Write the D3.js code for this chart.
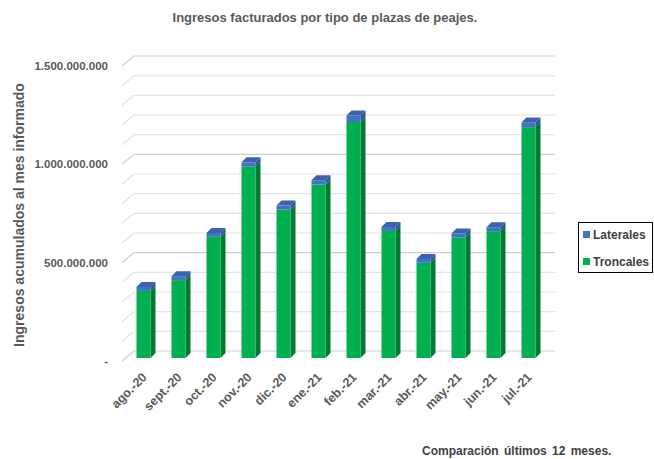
<!DOCTYPE html>
<html>
<head>
<meta charset="utf-8">
<script src="https://cdn.jsdelivr.net/npm/d3@7"></script>
<style>
body { margin: 0; background: #fff; }
svg { font-family: Arial, "Liberation Sans", sans-serif; }
</style>
</head>
<body>
<svg id="chart" width="654" height="459"></svg>
<script>
var months = ["ago.-20", "sept.-20", "oct.-20", "nov.-20", "dic.-20", "ene.-21", "feb.-21", "mar.-21", "abr.-21", "may.-21", "jun.-21", "jul.-21"];
var troncales = [341e6, 396e6, 616e6, 975e6, 755e6, 882e6, 1200e6, 646e6, 484e6, 613e6, 645e6, 1174e6];
var laterales = [20e6, 20e6, 20e6, 20e6, 20e6, 22e6, 33e6, 20e6, 20e6, 20e6, 20e6, 24e6];
var yTicks = [0, 500e6, 1000e6, 1500e6];
var yTickLabels = ["-", "500.000.000", "1.000.000.000", "1.500.000.000"];

var width = 654;
var height = 459;
var wallDx = 12;
var wallDy = -10;
var barDy = -3;
var depthX = 5;
var depthY = -5;

var svg = d3.select("#chart");

var x = d3.scaleBand()
  .domain(months)
  .range([126, 546])
  .paddingInner(0.6)
  .paddingOuter(0.3);

var y = d3.scaleLinear()
  .domain([0, 1500e6])
  .range([361, 66]);

// title
svg.append("text")
  .attr("x", 325)
  .attr("y", 22)
  .attr("text-anchor", "middle")
  .style("font-family", "'Liberation Sans Narrow', Arial, sans-serif")
  .style("font-size", "13px")
  .style("font-weight", "bold")
  .style("fill", "#595959")
  .text("Ingresos facturados por tipo de plazas de peajes.");

// gridlines (back wall + left side)
var gridVals = d3.range(0, 1500e6 + 1, 100e6);
var grid = svg.append("g");
gridVals.forEach(function(v) {
  var c = (v % 500e6 === 0) ? "#d0d0d0" : "#e3e3e3";
  grid.append("line")
    .attr("x1", 122).attr("y1", y(v))
    .attr("x2", 122 + wallDx).attr("y2", y(v) + wallDy)
    .attr("stroke", c).attr("stroke-width", 1.2);
  grid.append("line")
    .attr("x1", 122 + wallDx).attr("y1", y(v) + wallDy)
    .attr("x2", 555).attr("y2", y(v) + wallDy)
    .attr("stroke", c).attr("stroke-width", 1.2);
});

// y labels
svg.append("g").selectAll("text")
  .data(yTicks)
  .join("text")
  .attr("x", 108)
  .attr("y", function(d) { return y(d) + 4; })
  .attr("text-anchor", "end")
  .style("font-size", "11.5px")
  .style("font-weight", "bold")
  .style("fill", "#595959")
  .text(function(d, i) { return yTickLabels[i]; });

// y axis title
svg.append("text")
  .attr("transform", "translate(24,215) rotate(-90)")
  .attr("text-anchor", "middle")
  .style("font-size", "14px")
  .style("font-weight", "bold")
  .style("fill", "#595959")
  .text("Ingresos acumulados al mes informado");

// bars
var bw = x.bandwidth();
var bars = svg.append("g");
months.forEach(function(m, i) {
  var x0 = x(m);
  var base = y(0) + barDy;
  var gTop = y(troncales[i]) + barDy;
  var bTop = y(troncales[i] + laterales[i]) + barDy;
  // green side
  bars.append("path")
    .attr("d", "M" + (x0 + bw) + "," + base + "L" + (x0 + bw + depthX) + "," + (base + depthY) +
      "L" + (x0 + bw + depthX) + "," + (gTop + depthY) + "L" + (x0 + bw) + "," + gTop + "Z")
    .attr("fill", "#007a33");
  // green front
  bars.append("rect")
    .attr("x", x0).attr("y", gTop)
    .attr("width", bw).attr("height", base - gTop)
    .attr("fill", "#00b050");
  // blue side
  bars.append("path")
    .attr("d", "M" + (x0 + bw) + "," + gTop + "L" + (x0 + bw + depthX) + "," + (gTop + depthY) +
      "L" + (x0 + bw + depthX) + "," + (bTop + depthY) + "L" + (x0 + bw) + "," + bTop + "Z")
    .attr("fill", "#2f5597");
  // blue front
  bars.append("rect")
    .attr("x", x0).attr("y", bTop)
    .attr("width", bw).attr("height", gTop - bTop)
    .attr("fill", "#4472c4");
  // blue top
  bars.append("path")
    .attr("d", "M" + x0 + "," + bTop + "L" + (x0 + depthX) + "," + (bTop + depthY) +
      "L" + (x0 + bw + depthX) + "," + (bTop + depthY) + "L" + (x0 + bw) + "," + bTop + "Z")
    .attr("fill", "#3b62ad");
});

// x labels
svg.append("g").selectAll("text")
  .data(months)
  .join("text")
  .attr("transform", function(d) {
    return "translate(" + (x(d) + bw / 2 + 4) + ",378) rotate(-45)";
  })
  .attr("text-anchor", "end")
  .style("font-size", "12.5px")
  .style("font-weight", "bold")
  .style("fill", "#595959")
  .text(function(d) { return d; });

// legend
var legend = svg.append("g");
legend.append("rect")
  .attr("x", 578.5).attr("y", 222.5)
  .attr("width", 74).attr("height", 50)
  .attr("fill", "#fff").attr("stroke", "#000").attr("stroke-width", 1);
var legItems = [["Laterales", "#4472c4"], ["Troncales", "#00b050"]];
legItems.forEach(function(it, i) {
  legend.append("rect")
    .attr("x", 583).attr("y", 231 + i * 27)
    .attr("width", 7).attr("height", 7)
    .attr("fill", it[1]);
  legend.append("text")
    .attr("x", 593).attr("y", 239 + i * 27)
    .style("font-size", "12px")
    .style("font-weight", "bold")
    .style("fill", "#404040")
    .text(it[0]);
});

// footer
svg.append("text")
  .attr("x", 422)
  .attr("y", 455)
  .style("font-size", "12px")
  .style("font-weight", "bold")
  .style("word-spacing", "2px")
  .style("fill", "#404040")
  .text("Comparación últimos 12 meses.");
</script>
</body>
</html>
